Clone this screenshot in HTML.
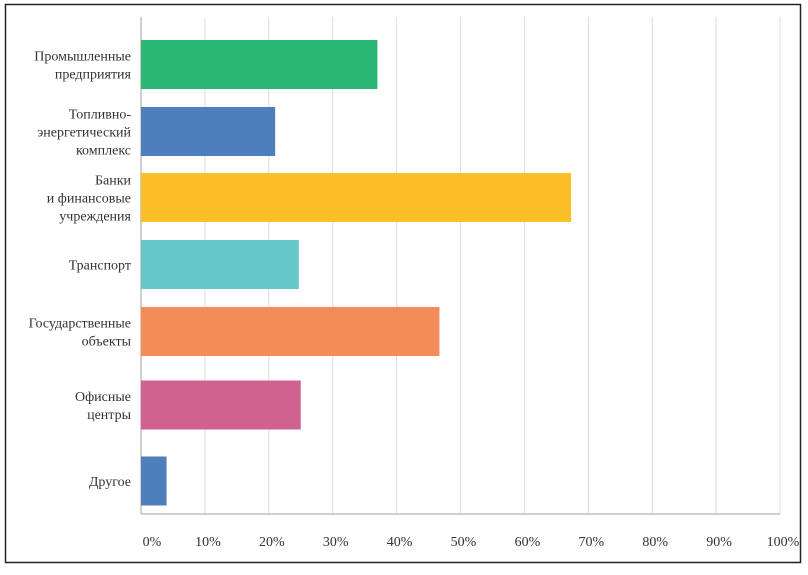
<!DOCTYPE html>
<html><head><meta charset="utf-8"><style>
html,body{margin:0;padding:0;background:#fff}
svg text{font-family:"Liberation Serif","DejaVu Serif",serif;fill:#333}
</style></head><body>
<svg id="chart" width="808" height="570" xmlns="http://www.w3.org/2000/svg">
<rect x="5.5" y="4.5" width="795" height="558" fill="#fff" stroke="#222" stroke-width="1.5"/>
<g id="grid"></g><g id="bars"></g><g id="labels"></g><g id="ticks"></g>
</svg>
<script>
const categories=[["Промышленные","предприятия"],["Топливно-","энергетический","комплекс"],["Банки","и финансовые","учреждения"],["Транспорт"],["Государственные","объекты"],["Офисные","центры"],["Другое"]];
const values=[37,21,67.3,24.7,46.7,25,4];
const colors=["#2bb673","#4e7fba","#fbbf28","#66c7c8","#f58b58","#d06290","#4e7fba"];
const tickValues=[0,10,20,30,40,50,60,70,80,90,100];
const tickLabels=["0%","10%","20%","30%","40%","50%","60%","70%","80%","90%","100%"];
const NS="http://www.w3.org/2000/svg";
const x0=141,x1=780,yTop=17,yBot=514;
const xs=v=>x0+(x1-x0)*v/100;
const centers=[64.5,131.5,197.5,264.5,331.5,405,481];
const band=i=>centers[i];
function mk(t,a,p){const e=document.createElementNS(NS,t);for(const k in a)e.setAttribute(k,a[k]);p.appendChild(e);return e;}
const g=document.getElementById('grid'),b=document.getElementById('bars'),l=document.getElementById('labels'),tk=document.getElementById('ticks');
tickValues.forEach((v,i)=>{
 if(v>0){const ln=mk('line',{x1:xs(v),x2:xs(v),y1:yTop,y2:yBot,stroke:'#dcdcdc','stroke-width':1},g);
 
 }
 const t=mk('text',{x:xs(v)+(v===0?11:3),y:546,'text-anchor':'middle','font-size':14},tk);
 t.textContent=tickLabels[i];
 
 
});
const ax=mk('line',{x1:x0,x2:x0,y1:yTop,y2:yBot,stroke:'#bfbfbf','stroke-width':1.5},g);


const axb=mk('line',{x1:x0,x2:x1,y1:yBot,y2:yBot,stroke:'#bfbfbf','stroke-width':1.5},g);


categories.forEach((c,i)=>{
 const cy=band(i),h=49;
 const r=mk('rect',{x:x0,y:cy-h/2,width:xs(values[i])-x0,height:h,fill:colors[i]},b);
 
 
 const lh=18,start=cy-(c.length-1)*lh/2+5;
 const t=mk('text',{x:131,'text-anchor':'end','font-size':14},l);
 
 
 c.forEach((s,j)=>{const ts=mk('tspan',{x:131,y:start+j*lh},t);ts.textContent=s;});
});
</script>
</body></html>
